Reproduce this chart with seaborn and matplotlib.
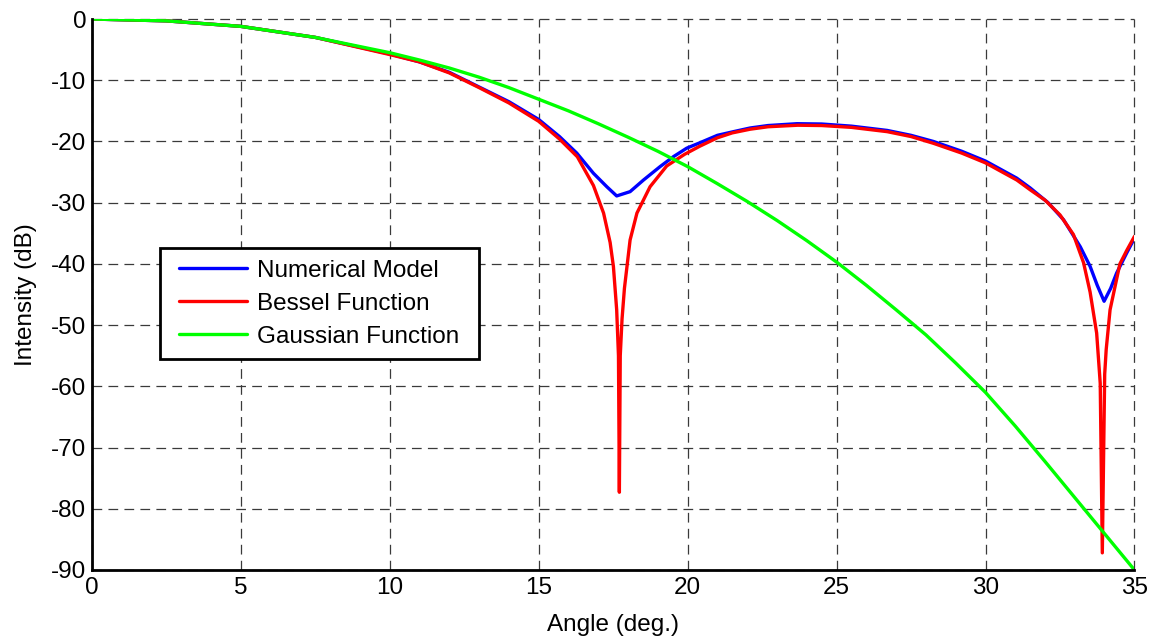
import numpy as np
import pandas as pd
import matplotlib
matplotlib.use("Agg")
import matplotlib.pyplot as plt
import seaborn as sns

# ---- data ----
num_angle = [0, 2.5, 5, 7.5, 10, 11, 12, 13, 14, 15, 15.7, 16.28, 16.84, 17.29,
             17.62, 18.07, 18.52, 19.08, 19.52, 19.97, 20.42, 21, 21.54, 22.1,
             22.7, 23.67, 24.5, 25.5, 26.7, 27.5, 28.25, 29.2, 30, 31.05, 31.5, 32.1,
             32.62, 33.18, 33.51, 33.75, 33.98, 34.2, 34.4, 34.74, 35]
num_db = [0, -0.3, -1.2, -3.0, -5.7, -7.0, -8.7, -11.1, -13.5, -16.4, -19.2, -21.9,
          -25.2, -27.4, -28.9, -28.2, -26.3, -24.1, -22.5, -21.1, -20.2, -19.0,
          -18.4, -17.8, -17.4, -17.1, -17.15, -17.5, -18.2, -19.0, -20.0, -21.6, -23.2,
          -26.0, -27.6, -30.0, -32.8, -37.2, -40.4, -43.5, -46.1, -44.0, -41.5,
          -38.2, -35.8]

bes_angle = [0, 2.5, 5, 7.5, 10, 11, 12, 13, 14, 15, 15.7, 16.3, 16.84, 17.18,
             17.4, 17.51, 17.62, 17.68, 17.71, 17.74, 17.8, 17.88, 18.07, 18.3,
             18.74, 19.3, 19.9, 20.4, 21, 21.5, 22.1, 22.7, 23.7, 24.5, 25.5, 26.7,
             27.5, 28.25, 29.2, 30, 31.05, 31.5, 32, 32.5, 32.95, 33.29, 33.51, 33.73,
             33.85, 33.92, 34.0, 34.05, 34.18, 34.4, 34.51, 34.74, 35]
bes_db = [0, -0.3, -1.2, -3.0, -5.8, -7.0, -8.8, -11.2, -13.7, -16.7, -19.6, -22.5,
          -27.2, -31.7, -36.5, -40.4, -47.5, -55, -77.3, -55, -49, -44, -36.1, -31.7,
          -27.4, -24.0, -22.1, -20.8, -19.4, -18.6, -18.0, -17.6, -17.35, -17.4,
          -17.7, -18.4, -19.2, -20.3, -21.9, -23.5, -26.3, -27.9, -29.6, -32.0, -35.2,
          -39.8, -44.6, -51.3, -59.5, -87.2, -58, -54, -47.5, -42.5, -40.0, -37.8,
          -35.5]

gau_angle = [0, 2.5, 5, 7.5, 10, 11, 12, 13, 14, 15, 16, 17, 18, 19, 20, 21, 22,
             23, 24, 25, 26, 27, 28, 29, 30, 31, 32, 33, 34, 35]
gau_db = [0, -0.3, -1.2, -3.0, -5.5, -6.7, -8.0, -9.5, -11.2, -13.1, -15.0, -17.1,
          -19.3, -21.6, -24.1, -26.9, -29.8, -32.9, -36.2, -39.7, -43.5, -47.5,
          -51.6, -56.2, -61.0, -66.5, -72.3, -78.2, -84.1, -90.0]

series_names = ["Numerical Model", "Bessel Function", "Gaussian Function"]
series_colors = ["#0000ff", "#ff0000", "#00ff00"]
x_ticks = [0, 5, 10, 15, 20, 25, 30, 35]
y_ticks = [0, -10, -20, -30, -40, -50, -60, -70, -80, -90]

df = pd.concat([
    pd.DataFrame({"angle": num_angle, "db": num_db, "series": series_names[0]}),
    pd.DataFrame({"angle": bes_angle, "db": bes_db, "series": series_names[1]}),
    pd.DataFrame({"angle": gau_angle, "db": gau_db, "series": series_names[2]}),
], ignore_index=True)

sns.set_style("white")
plt.rcParams["font.family"] = ["Liberation Sans", "DejaVu Sans"]
plt.rcParams["lines.scale_dashes"] = False
plt.rcParams["text.color"] = "black"
plt.rcParams["axes.labelcolor"] = "black"

FS = 17.5

fig = plt.figure(figsize=(11.58, 6.38), dpi=100)
ax = fig.add_axes([0.0792, 0.1066, 0.9005, 0.8636])

for name, col in zip(series_names, series_colors):
    sub = df[df["series"] == name]
    sns.lineplot(data=sub, x="angle", y="db", ax=ax, color=col, lw=2.4,
                 sort=False, estimator=None, label=name, zorder=3)

ax.set_xlim(0, 35)
ax.set_ylim(-90, 0)
ax.set_xticks(x_ticks)
ax.set_yticks(y_ticks)
ax.set_xticklabels([str(v) for v in x_ticks])
ax.set_yticklabels([str(v) for v in y_ticks])

ax.grid(True, color="#3a3a3a", linestyle=(0, (7, 4.5)), linewidth=0.9, zorder=1)
ax.set_axisbelow(True)
for gl in ax.get_xgridlines() + ax.get_ygridlines():
    gl.set_clip_on(False)

for s in ["top", "right"]:
    ax.spines[s].set_visible(False)
for s in ["left", "bottom"]:
    ax.spines[s].set_linewidth(2.0)
    ax.spines[s].set_color("black")
    ax.spines[s].set_zorder(5)

ax.tick_params(axis="both", direction="in", length=6, width=2.0, labelsize=FS,
               colors="black", labelcolor="black")
ax.tick_params(axis="y", pad=4)
ax.tick_params(axis="x", pad=5)

ax.set_xlabel("Angle (deg.)", fontsize=FS, labelpad=11, color="black")
ax.set_ylabel("Intensity (dB)", fontsize=FS, labelpad=10, color="black")

leg = ax.legend(loc="upper left", bbox_to_anchor=(0.0746, 0.581), fontsize=FS,
                frameon=True, fancybox=False, edgecolor="black", framealpha=1,
                handlelength=2.8, handletextpad=0.4, labelspacing=0.45,
                borderpad=0.4, borderaxespad=0)
for t in leg.get_texts():
    t.set_color("black")
frame = leg.get_frame()
frame.set_linewidth(2.0)
frame.set_boxstyle("square", pad=0.4)
frame.set_mutation_aspect(0.2)
leg.set_zorder(10)

fig.savefig("out.png", dpi=100, facecolor="white")
